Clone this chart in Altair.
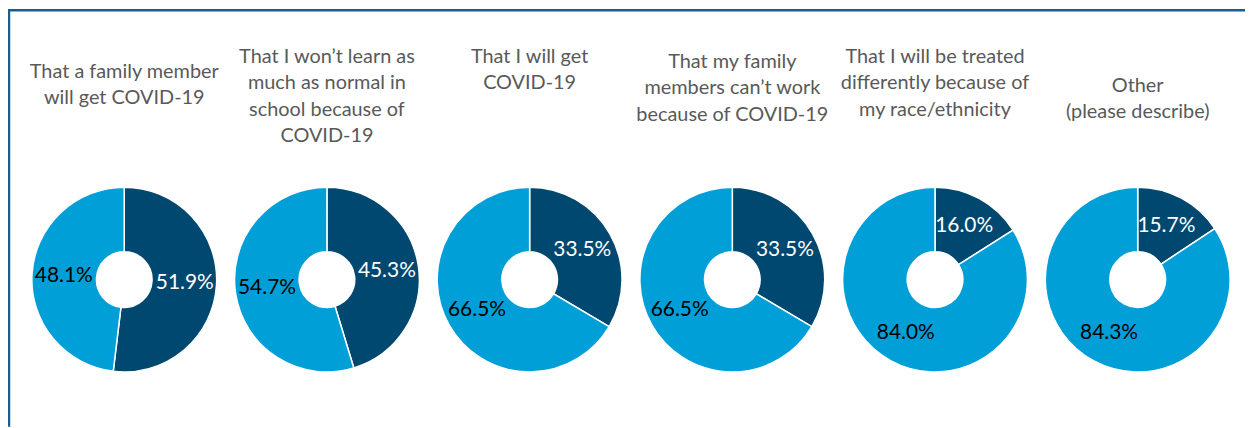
import altair as alt
import pandas as pd

# ---- data ----
titles = [
    "That a family member\nwill get COVID-19",
    "That I won\u2019t learn as\nmuch as normal in\nschool because of\nCOVID-19",
    "That I will get\nCOVID-19",
    "That my family\nmembers can\u2019t work\nbecause of COVID-19",
    "That I will be treated\ndifferently because of\nmy race/ethnicity",
    "Other\n(please describe)",
]
yes_values = [51.9, 45.3, 33.5, 33.5, 16.0, 15.7]
no_values = [48.1, 54.7, 66.5, 66.5, 84.0, 84.3]
slice_names = ["Yes", "No"]

# ---- style ----
DARK = "#00486F"
LIGHT = "#009FD8"
TITLE_BASELINE = [69, 54, 54, 59, 54, 83]   # first-line baseline of each title (px)
FONT = "Lato"

rows = []
for i, t in enumerate(titles):
    rows.append({"panel": i, "title": t, "slice": slice_names[0], "order": 0, "value": yes_values[i]})
    rows.append({"panel": i, "title": t, "slice": slice_names[1], "order": 1, "value": no_values[i]})
df = pd.DataFrame(rows)
tdf = pd.DataFrame({"panel": list(range(len(titles))), "title": titles})

xscale = alt.Scale(type="point", domain=list(range(len(titles))), range=[117, 1137], padding=0)
theta_scale = alt.Scale(domain=[0, 100], range=[0, 6.283185307179586])

base = alt.Chart(df).transform_stack(
    stack="value", groupby=["panel"], as_=["v0", "v1"], sort=[alt.SortField("order")]
).transform_calculate(
    mid="(datum.v0 + datum.v1) / 2",
    label="format(datum.value, '.1f') + '%'",
)

arcs = base.mark_arc(outerRadius=93, innerRadius=28, stroke="white", strokeWidth=1.5).encode(
    x=alt.X("panel:O", scale=xscale, axis=None),
    y=alt.value(272),
    theta=alt.Theta("v0:Q", scale=theta_scale, stack=None),
    theta2="v1:Q",
    color=alt.Color("slice:N", scale=alt.Scale(domain=slice_names, range=[DARK, LIGHT]), legend=None),
)

labels = base.mark_text(font=FONT, fontSize=21, radius=61).encode(
    x=alt.X("panel:O", scale=xscale, axis=None),
    y=alt.value(272),
    theta=alt.Theta("mid:Q", scale=theta_scale, stack=None),
    text="label:N",
    color=alt.condition(alt.datum.slice == slice_names[0], alt.value("white"), alt.value("black")),
)

title_layers = []
for i in range(len(titles)):
    title_layers.append(
        alt.Chart(tdf).transform_filter(alt.datum.panel == i).mark_text(
            font=FONT, fontSize=20, color="#595959", lineBreak="\n", lineHeight=26.5,
            baseline="alphabetic", align="center",
        ).encode(
            x=alt.X("panel:O", scale=xscale, axis=None),
            y=alt.value(TITLE_BASELINE[i]),
            text="title:N",
        )
    )

frame_df = pd.DataFrame({"side": ["top", "left"]})
top_border = alt.Chart(frame_df).transform_filter(alt.datum.side == "top").mark_rule(
    color="#1B5D8C", strokeWidth=2.5
).encode(x=alt.value(0), x2=alt.value(1245), y=alt.value(1))
left_border = alt.Chart(frame_df).transform_filter(alt.datum.side == "left").mark_rule(
    color="#1B5D8C", strokeWidth=2.5
).encode(x=alt.value(1), y=alt.value(0), y2=alt.value(420))

chart = alt.layer(arcs, labels, *title_layers, top_border, left_border).properties(
    width=1245, height=420, autosize=alt.AutoSizeParams(type="none"), padding=0,
).configure_view(stroke=None)

chart.save("out.html", embed_options={"renderer": "svg", "actions": False})
